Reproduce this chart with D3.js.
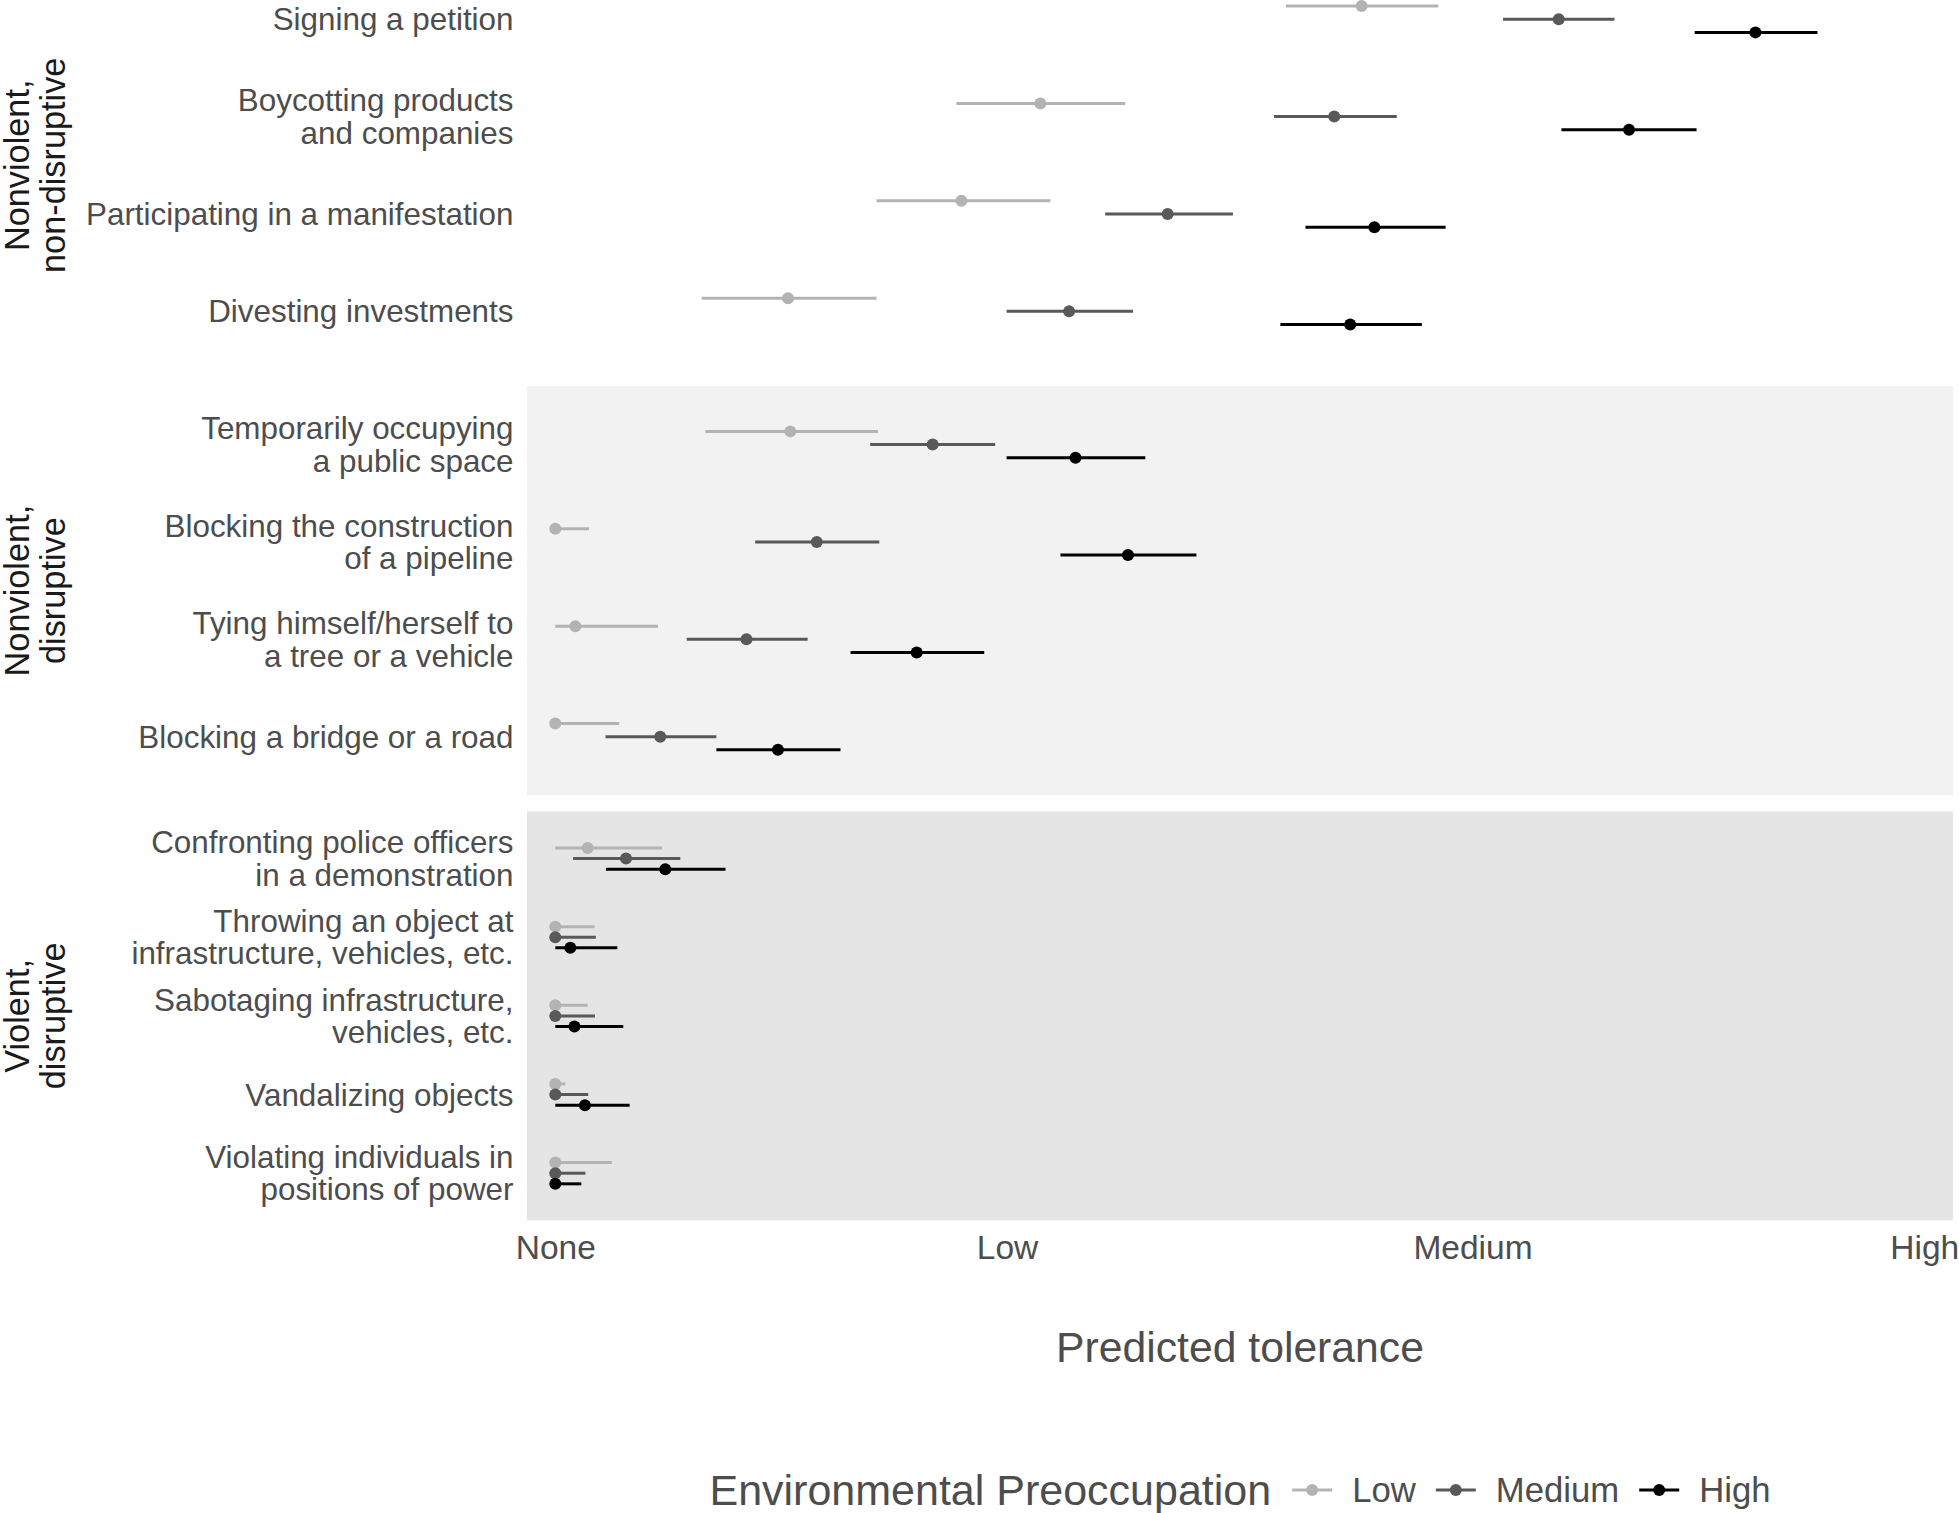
<!DOCTYPE html>
<html>
<head>
<meta charset="utf-8">
<script src="https://cdn.jsdelivr.net/npm/d3@7/dist/d3.min.js"></script>
<style>
    body { margin: 0; background: #fff; }
    text { font-family: "Liberation Sans", Arial, sans-serif; }
</style>
</head>
<body>
<script>
//categories (top to bottom) and the facet each belongs to
var actions = [
    "Signing a petition",
    "Boycotting products\nand companies",
    "Participating in a manifestation",
    "Divesting investments",
    "Temporarily occupying\na public space",
    "Blocking the construction\nof a pipeline",
    "Tying himself/herself to\na tree or a vehicle",
    "Blocking a bridge or a road",
    "Confronting police officers\nin a demonstration",
    "Throwing an object at\ninfrastructure, vehicles, etc.",
    "Sabotaging infrastructure,\nvehicles, etc.",
    "Vandalizing objects",
    "Violating individuals in\npositions of power"
];
var actionType = [0, 0, 0, 0, 1, 1, 1, 1, 2, 2, 2, 2, 2];
var typeLabels = ["Nonviolent,\nnon-disruptive", "Nonviolent,\ndisruptive", "Violent,\ndisruptive"];

//environmental preoccupation groups
var levels = ["Low", "Medium", "High"];

//predicted tolerance: estimate, lower and upper bound per group
var lowEst  = [1.767, 1.063, 0.890, 0.510, 0.515, 0.000, 0.044, 0.000, 0.071, 0.000, 0.000, 0.000, 0.000];
var lowLo   = [1.601, 0.879, 0.704, 0.321, 0.329, 0.000, 0.000, 0.000, 0.000, 0.000, 0.000, 0.000, 0.000];
var lowHi   = [1.935, 1.249, 1.085, 0.704, 0.707, 0.074, 0.225, 0.140, 0.234, 0.086, 0.071, 0.022, 0.124];

var medEst  = [2.199, 1.707, 1.342, 1.126, 0.827, 0.573, 0.419, 0.230, 0.155, 0.000, 0.000, 0.000, 0.000];
var medLo   = [2.077, 1.575, 1.205, 0.989, 0.690, 0.438, 0.288, 0.110, 0.039, 0.000, 0.000, 0.000, 0.000];
var medHi   = [2.321, 1.844, 1.485, 1.266, 0.964, 0.710, 0.553, 0.353, 0.274, 0.089, 0.087, 0.072, 0.066];

var highEst = [2.630, 2.353, 1.795, 1.742, 1.140, 1.255, 0.792, 0.488, 0.241, 0.033, 0.042, 0.065, 0.000];
var highLo  = [2.497, 2.205, 1.644, 1.589, 0.989, 1.107, 0.647, 0.353, 0.111, 0.000, 0.000, 0.000, 0.000];
var highHi  = [2.766, 2.501, 1.951, 1.899, 1.293, 1.405, 0.940, 0.625, 0.373, 0.136, 0.149, 0.163, 0.057];

//x axis
var tickValues = [0, 0.99, 2.01, 3];
var tickLabels = ["None", "Low", "Medium", "High"];
var xTitle = "Predicted tolerance";
var legendTitle = "Environmental Preoccupation";

function drawChart(){
    var width = 1959,
        height = 1513;

    var panelLeft = 527,
        panelRight = 1953,
        panelHeight = 409,
        panelGap = 16.3,
        firstTop = -39.2;

    var colors = ["#b3b3b3", "#595959", "#000000"];
    var panelFills = ["#ffffff", "#f2f2f2", "#e5e5e5"];

    var svg = d3.select("body")
        .append("svg")
        .attr("width", width)
        .attr("height", height);

    //x scale (small expansion either side of 0..3)
    var x = d3.scaleLinear()
        .domain([-0.062, 3.063])
        .range([panelLeft, panelRight]);

    //regroup values by series
    var series = [
        {est: lowEst, lo: lowLo, hi: lowHi},
        {est: medEst, lo: medLo, hi: medHi},
        {est: highEst, lo: highLo, hi: highHi}
    ];

    //multi-line text helper
    function multiText(sel, label, lineHeight){
        var lines = label.split("\n");
        lines.forEach(function(line, i){
            sel.append("tspan")
                .attr("x", sel.attr("x"))
                .attr("y", +sel.attr("y") + (i - (lines.length - 1) / 2) * lineHeight)
                .attr("dy", "0.35em")
                .text(line);
        });
    }

    typeLabels.forEach(function(typeLabel, p){
        var top = firstTop + p * (panelHeight + panelGap);
        var names = actions.filter(function(a, i){ return actionType[i] === p; });

        var y = d3.scalePoint()
            .domain(names)
            .range([top, top + panelHeight])
            .padding(0.6);

        //panel background
        svg.append("rect")
            .attr("x", panelLeft)
            .attr("y", top)
            .attr("width", panelRight - panelLeft)
            .attr("height", panelHeight)
            .attr("fill", panelFills[p]);

        //facet strip label (rotated, left side)
        var strip = svg.append("text")
            .attr("transform", "translate(35," + (top + panelHeight / 2) + ") rotate(-90)")
            .attr("x", 0)
            .attr("y", 0)
            .attr("text-anchor", "middle")
            .attr("font-size", 34.3)
            .attr("fill", "#1a1a1a");
        multiText(strip, typeLabel, 35.5);

        //category labels
        names.forEach(function(name){
            var lab = svg.append("text")
                .attr("x", 513.5)
                .attr("y", y(name))
                .attr("text-anchor", "end")
                .attr("font-size", 31.4)
                .attr("fill", "#4d4d4d");
            multiText(lab, name, 32.5);
        });

        //pointranges, dodged
        var dodge = 0.135 * y.step();
        actions.forEach(function(name, i){
            if (actionType[i] !== p) return;
            series.forEach(function(s, g){
                var yy = y(name) + (g - 1) * dodge;
                svg.append("line")
                    .attr("x1", x(s.lo[i]))
                    .attr("x2", x(s.hi[i]))
                    .attr("y1", yy)
                    .attr("y2", yy)
                    .attr("stroke", colors[g])
                    .attr("stroke-width", 3);
                svg.append("circle")
                    .attr("cx", x(s.est[i]))
                    .attr("cy", yy)
                    .attr("r", 6)
                    .attr("fill", colors[g]);
            });
        });
    });

    //x axis labels
    var xAxis = d3.axisBottom(x)
        .tickValues(tickValues)
        .tickFormat(function(d, i){ return tickLabels[i]; })
        .tickSize(0)
        .tickPadding(0);

    var axisG = svg.append("g")
        .attr("transform", "translate(0,1235)")
        .call(xAxis);
    axisG.select(".domain").remove();
    axisG.selectAll("text")
        .attr("font-size", 33.5)
        .attr("fill", "#4d4d4d")
        .attr("font-family", "Liberation Sans, Arial, sans-serif")
        .attr("dy", "0.72em");

    //x title
    svg.append("text")
        .attr("x", (panelLeft + panelRight) / 2)
        .attr("y", 1362)
        .attr("text-anchor", "middle")
        .attr("font-size", 42.7)
        .attr("fill", "#4d4d4d")
        .text(xTitle);

    //legend, laid out left to right then centred
    var legend = svg.append("g");
    var legendY = 1490;
    var cursor = 0;

    var lt = legend.append("text")
        .attr("x", cursor)
        .attr("y", legendY)
        .attr("dy", "0.35em")
        .attr("font-size", 43)
        .attr("fill", "#4d4d4d")
        .text(legendTitle);
    cursor += lt.node().getComputedTextLength() + 21;

    levels.forEach(function(level, g){
        legend.append("line")
            .attr("x1", cursor)
            .attr("x2", cursor + 40)
            .attr("y1", legendY)
            .attr("y2", legendY)
            .attr("stroke", colors[g])
            .attr("stroke-width", 3);
        legend.append("circle")
            .attr("cx", cursor + 20)
            .attr("cy", legendY)
            .attr("r", 6)
            .attr("fill", colors[g]);
        cursor += 60;
        var t = legend.append("text")
            .attr("x", cursor)
            .attr("y", legendY)
            .attr("dy", "0.35em")
            .attr("font-size", 34.7)
            .attr("fill", "#4d4d4d")
            .text(level);
        cursor += t.node().getComputedTextLength();
        if (g < levels.length - 1) cursor += 20;
    });

    legend.attr("transform", "translate(" + ((panelLeft + panelRight) / 2 - cursor / 2) + ",0)");
}

window.onload = drawChart();
</script>
</body>
</html>
